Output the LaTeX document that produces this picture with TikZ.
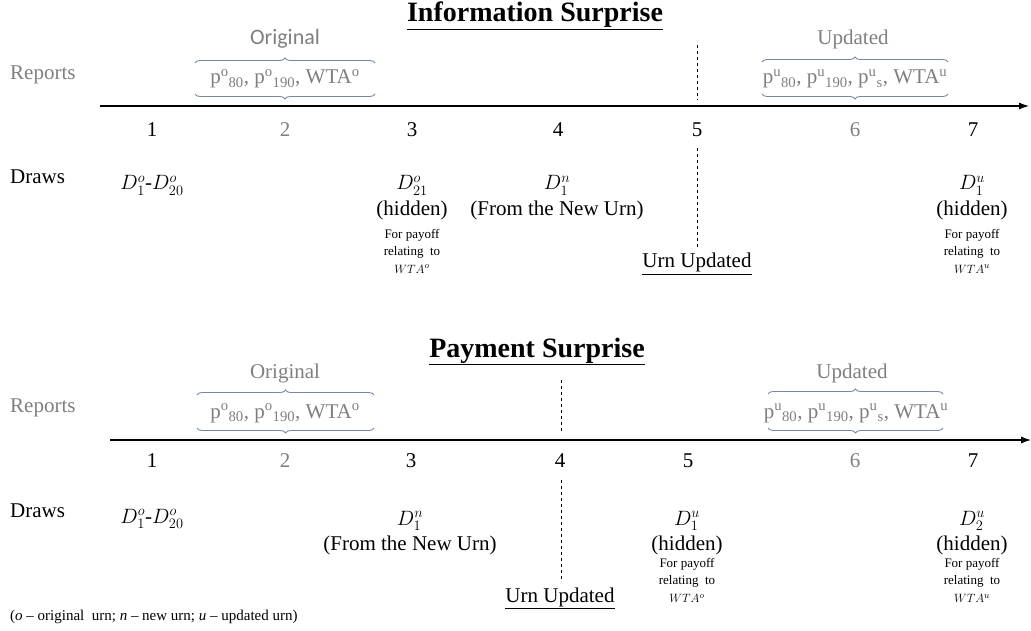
\documentclass[tikz,border=0pt]{standalone}
\usepackage{fontspec}
\setmainfont{Liberation Serif}
\newfontfamily\calibri{Carlito}
\usepackage{tikz}
\usetikzlibrary{arrows.meta,decorations.pathreplacing,positioning}
\definecolor{repgray}{HTML}{7F7F7F}
\definecolor{bracecol}{HTML}{7588A6}
\tikzset{%
	title/.style   = {anchor=base, inner sep=0pt, font=\fontsize{28}{32}\selectfont\bfseries},
	main/.style    = {anchor=base, inner sep=0pt, font=\fontsize{21}{25}\selectfont},
	grayt/.style   = {main, text=repgray},
	lefttext/.style= {main, anchor=base west},
	small/.style   = {anchor=north, inner sep=0pt, align=center, font=\fontsize{13}{17.5}\selectfont},
	brace/.style   = {decorate, decoration={brace, amplitude=5pt}, draw=bracecol, line width=0.9pt},
	axis/.style    = {line width=1.1pt, -{Latex[length=10pt,width=7pt]}},
	urnline/.style = {dashed, line width=0.7pt},
}
\begin{document}
\begin{tikzpicture}[x=1pt,y=-1pt]
	\useasboundingbox (0,0) rectangle (1031,631);
	% Information Surprise
	\node[title] (t1) at (535,22) {\underline{Information Surprise}};
	\node[lefttext, text=repgray] (rep1) at (10,80) {Reports};
	\node[lefttext] (dr1) at (10,184) {Draws};
	\node[grayt, font=\fontsize{22}{25}\calibri] (orig1) at (285,45) {Original};
	\node[grayt] (pl1) at (285,84) {p\textsuperscript{o}\textsubscript{80}, p\textsuperscript{o}\textsubscript{190}, WTA\textsuperscript{o}};
	\node[grayt] (upd1) at (853,45) {Updated};
	\node[grayt] (pr1) at (855,84) {p\textsuperscript{u}\textsubscript{80}, p\textsuperscript{u}\textsubscript{190}, p\textsuperscript{u}\textsubscript{s}, WTA\textsuperscript{u}};
	\coordinate (ax1) at (100,106); \coordinate (ay1) at (1029,106);
	\draw[axis] (ax1) -- (ay1);  % time axis
	\foreach \x/\n/\c in {152/1/black,285/2/repgray,412/3/black,558/4/black,697/5/black,855/6/repgray,973/7/black}
		\node[main, text=\c] (a\n) at (\x,137) {\n};
	\coordinate (bl1) at (195,63); \coordinate (bl2) at (375,63);
	\coordinate (bl3) at (375,94); \coordinate (bl4) at (195,94);
	\coordinate (br1) at (762,62); \coordinate (br2) at (948,62);
	\coordinate (br3) at (948,94); \coordinate (br4) at (762,94);
	\draw[brace] (bl1) -- (bl2); \draw[brace] (bl3) -- (bl4);
	\draw[brace] (br1) -- (br2); \draw[brace] (br3) -- (br4);
	\node[main] (d11) at (152,190) {$D_1^o$-$D_{20}^o$};
	\node[main] (d13) at (412,190) {$D_{21}^o$};
	\node[main] (h13) at (412,216) {(hidden)};
	\node[small] (s13) at (412,229) {For payoff\\relating~ to\\$WTA^o$};
	\node[main] (d14) at (557,190) {$D_1^n$};
	\node[main] (f14) at (557,216) {(From the New Urn)};
	\node[main] (d17) at (972,190) {$D_1^u$};
	\node[main] (h17) at (972,216) {(hidden)};
	\node[small] (s17) at (972,229) {For payoff\\relating~ to\\$WTA^u$};
	\node[main] (uu1) at (697,268) {\underline{Urn Updated}};
	\coordinate (v1) at (697,45); \coordinate (v2) at (697,100);
	\coordinate (v3) at (697,148); \coordinate (v4) at (697,248);
	\draw[urnline] (v1) -- (v2);
	\draw[urnline] (v3) -- (v4);
	% Payment Surprise
	\node[title] (t2) at (537,357) {\underline{Payment Surprise}};
	\node[lefttext, text=repgray] (rep2) at (10,412) {Reports};
	\node[lefttext] (dr2) at (10,517) {Draws};
	\node[grayt] (orig2) at (285,378) {Original};
	\node[grayt] (pl2) at (285,418) {p\textsuperscript{o}\textsubscript{80}, p\textsuperscript{o}\textsubscript{190}, WTA\textsuperscript{o}};
	\node[grayt] (upd2) at (852,378) {Updated};
	\node[grayt] (pr2) at (856,418) {p\textsuperscript{u}\textsubscript{80}, p\textsuperscript{u}\textsubscript{190}, p\textsuperscript{u}\textsubscript{s}, WTA\textsuperscript{u}};
	\coordinate (ax2) at (110,440); \coordinate (ay2) at (1031,440);
	\draw[axis] (ax2) -- (ay2);  % time axis
	\foreach \x/\n/\c in {152/1/black,285/2/repgray,411/3/black,560/4/black,688/5/black,855/6/repgray,973/7/black}
		\node[main, text=\c] (b\n) at (\x,467) {\n};
	\coordinate (cl1) at (197,395); \coordinate (cl2) at (374,395);
	\coordinate (cl3) at (374,428); \coordinate (cl4) at (197,428);
	\coordinate (cr1) at (768,394); \coordinate (cr2) at (943,394);
	\coordinate (cr3) at (943,428); \coordinate (cr4) at (768,428);
	\draw[brace] (cl1) -- (cl2); \draw[brace] (cl3) -- (cl4);
	\draw[brace] (cr1) -- (cr2); \draw[brace] (cr3) -- (cr4);
	\node[main] (d21) at (152,523) {$D_1^o$-$D_{20}^o$};
	\node[main] (d23) at (410,525) {$D_1^n$};
	\node[main] (f23) at (410,550) {(From the New Urn)};
	\node[main] (d25) at (687,525) {$D_1^u$};
	\node[main] (h25) at (687,550) {(hidden)};
	\node[small] (s25) at (687,558) {For payoff\\relating~ to\\$WTA^o$};
	\node[main] (d27) at (972,525) {$D_2^u$};
	\node[main] (h27) at (972,550) {(hidden)};
	\node[small] (s27) at (972,558) {For payoff\\relating~ to\\$WTA^u$};
	\node[main] (uu2) at (560,602) {\underline{Urn Updated}};
	\coordinate (w1) at (561,380); \coordinate (w2) at (561,433);
	\coordinate (w3) at (561,480); \coordinate (w4) at (561,580);
	\draw[urnline] (w1) -- (w2);
	\draw[urnline] (w3) -- (w4);
	\node[anchor=base west, inner sep=0pt, font=\fontsize{15}{18}\selectfont] (note) at (10,620)
		{(\textit{o} -- original~ urn; \textit{n} -- new urn; \textit{u} -- updated urn)};
\end{tikzpicture}
\end{document}
